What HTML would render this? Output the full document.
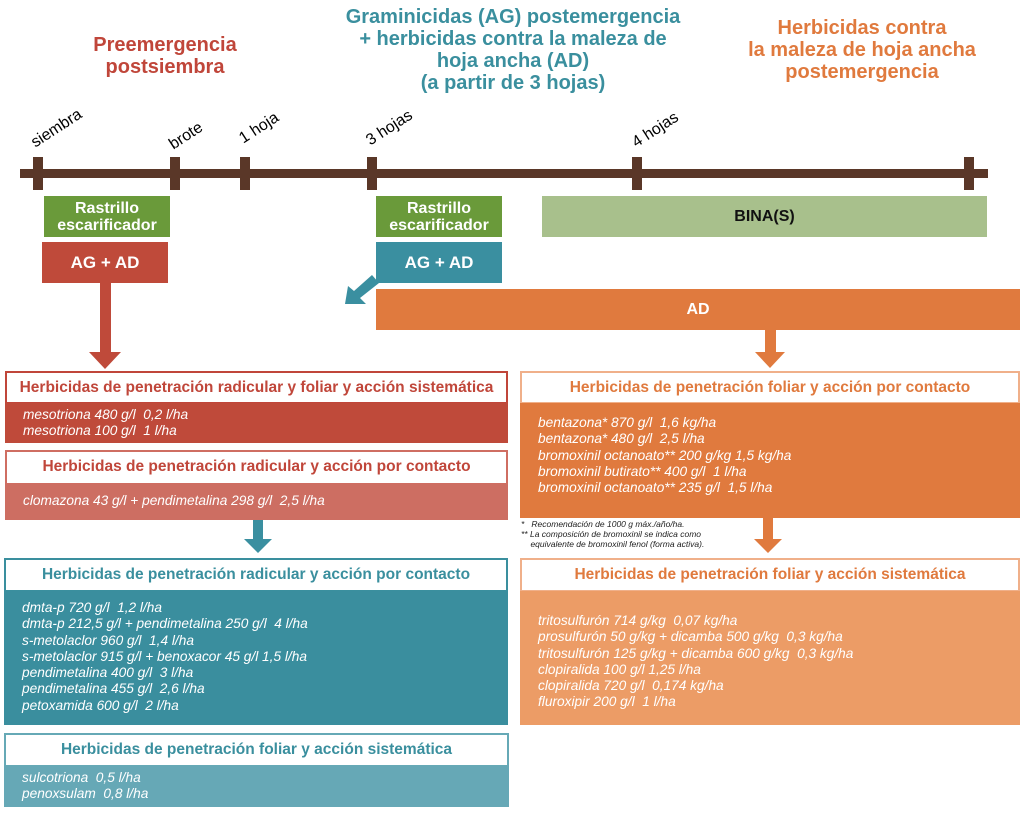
<!DOCTYPE html>
<html><head><meta charset="utf-8"><style>
body{margin:0;width:1024px;height:824px;position:relative;background:#fff;font-family:"Liberation Sans",sans-serif;overflow:hidden}
div{position:absolute;box-sizing:border-box}
.t{font-weight:bold;text-align:center;font-size:20px;line-height:22px}
.b{color:#fff;font-weight:bold;text-align:center;font-size:16px;display:flex;align-items:center;justify-content:center;line-height:17px}
.h{background:#fff;text-align:center;font-weight:bold;font-size:15.5px;line-height:30px;border:2px solid;white-space:nowrap}
.body{color:#fff;font-style:italic;font-size:13.7px;line-height:16.3px;padding-left:18px}
.tk{background:#5a3728;width:10px;height:33px;top:157px}
.lb{font-size:16px;transform:rotate(-33deg);transform-origin:left bottom;white-space:nowrap}
</style></head><body>
<div class="t" style="left:40px;top:34px;width:250px;color:#c0463a">Preemergencia<br>postsiembra</div>
<div class="t" style="left:290px;top:6px;width:446px;color:#3a8f9e">Graminicidas (AG) postemergencia<br>+ herbicidas contra la maleza de<br>hoja ancha (AD)<br>(a partir de 3 hojas)</div>
<div class="t" style="left:720px;top:17px;width:284px;color:#e07a3e">Herbicidas contra<br>la maleza de hoja ancha<br>postemergencia</div>

<div style="left:20px;top:169px;width:968px;height:9px;background:#5a3728"></div>
<div class="tk" style="left:33px"></div><div class="tk" style="left:170px"></div><div class="tk" style="left:240px"></div><div class="tk" style="left:367px"></div><div class="tk" style="left:632px"></div><div class="tk" style="left:964px"></div>
<div class="lb" style="left:38px;top:134px">siembra</div>
<div class="lb" style="left:176px;top:136px">brote</div>
<div class="lb" style="left:246px;top:130px">1 hoja</div>
<div class="lb" style="left:373px;top:132px">3 hojas</div>
<div class="lb" style="left:639px;top:134px">4 hojas</div>

<div class="b" style="left:44px;top:196px;width:126px;height:41px;background:#6a9a3a">Rastrillo<br>escarificador</div>
<div class="b" style="left:42px;top:242px;width:126px;height:41px;background:#bf4a3a;font-size:17px">AG + AD</div>
<div class="b" style="left:376px;top:196px;width:126px;height:41px;background:#6a9a3a">Rastrillo<br>escarificador</div>
<div class="b" style="left:376px;top:242px;width:126px;height:41px;background:#3a8fa0;font-size:17px">AG + AD</div>
<div class="b" style="left:376px;top:289px;width:644px;height:41px;background:#e07a3e">AD</div>
<div class="b" style="left:542px;top:196px;width:445px;height:41px;background:#a8c08c;color:#111;font-weight:bold">BINA(S)</div>

<svg style="position:absolute;left:0;top:0" width="1024" height="824">
<polygon points="100,283 111,283 111,352 121,352 105,369 89,352 100,352" fill="#bf4a3a"/>
<polygon points="372,275 379,283 360,298 366,304 345,304 348,286 354,291" fill="#3a8fa0"/>
<polygon points="765,329 776,329 776,352 785,352 770,368 755,352 765,352" fill="#e07a3e"/>
<polygon points="253,520 263,520 263,539 272,539 258,553 244,539 253,539" fill="#3a8fa0"/>
<polygon points="763,517 773,517 773,539 782,539 768,553 754,539 763,539" fill="#e07a3e"/>
</svg>

<div class="h" style="left:5px;top:371px;width:503px;height:33px;border-color:#c0463a;color:#c0463a">Herbicidas de penetración radicular y foliar y acción sistemática</div>
<div class="body" style="left:5px;top:403px;width:503px;height:40px;background:#bf4a3a;padding-top:4px">mesotriona 480 g/l&nbsp; 0,2 l/ha<br>mesotriona 100 g/l&nbsp; 1 l/ha</div>
<div class="h" style="left:5px;top:450px;width:503px;height:35px;border-color:#cf6e62;color:#c0463a">Herbicidas de penetración radicular y acción por contacto</div>
<div class="body" style="left:5px;top:484px;width:503px;height:36px;background:#cd6e62;padding-top:9px">clomazona 43 g/l + pendimetalina 298 g/l&nbsp; 2,5 l/ha</div>

<div class="h" style="left:4px;top:558px;width:504px;height:34px;border-color:#3a8f9e;color:#3a8f9e">Herbicidas de penetración radicular y acción por contacto</div>
<div class="body" style="left:4px;top:591px;width:504px;height:134px;background:#3a8e9e;padding-top:9px">dmta-p 720 g/l&nbsp; 1,2 l/ha<br>dmta-p 212,5 g/l + pendimetalina 250 g/l&nbsp; 4 l/ha<br>s-metolaclor 960 g/l&nbsp; 1,4 l/ha<br>s-metolaclor 915 g/l + benoxacor 45 g/l 1,5 l/ha<br>pendimetalina 400 g/l&nbsp; 3 l/ha<br>pendimetalina 455 g/l&nbsp; 2,6 l/ha<br>petoxamida 600 g/l&nbsp; 2 l/ha</div>
<div class="h" style="left:4px;top:733px;width:505px;height:34px;border-color:#66a9b6;color:#3a8f9e">Herbicidas de penetración foliar y acción sistemática</div>
<div class="body" style="left:4px;top:766px;width:505px;height:41px;background:#66a8b6;padding-top:4px">sulcotriona&nbsp; 0,5 l/ha<br>penoxsulam&nbsp; 0,8 l/ha</div>

<div class="h" style="left:520px;top:371px;width:500px;height:33px;border-color:#f0b08a;color:#e07a3e">Herbicidas de penetración foliar y acción por contacto</div>
<div class="body" style="left:520px;top:403px;width:500px;height:115px;background:#e07a3e;padding-top:12px">bentazona* 870 g/l&nbsp; 1,6 kg/ha<br>bentazona* 480 g/l&nbsp; 2,5 l/ha<br>bromoxinil octanoato** 200 g/kg 1,5 kg/ha<br>bromoxinil butirato** 400 g/l&nbsp; 1 l/ha<br>bromoxinil octanoato** 235 g/l&nbsp; 1,5 l/ha</div>
<div style="left:521px;top:519px;font-size:8.5px;line-height:10px;font-style:italic;color:#222">*&nbsp;&nbsp; Recomendación de 1000 g máx./año/ha.<br>** La composición de bromoxinil se indica como<br>&nbsp;&nbsp;&nbsp; equivalente de bromoxinil fenol (forma activa).</div>
<div class="h" style="left:520px;top:558px;width:500px;height:34px;border-color:#f0b08a;color:#e07a3e">Herbicidas de penetración foliar y acción sistemática</div>
<div class="body" style="left:520px;top:591px;width:500px;height:134px;background:#ec9c66;padding-top:22px">tritosulfurón 714 g/kg&nbsp; 0,07 kg/ha<br>prosulfurón 50 g/kg + dicamba 500 g/kg&nbsp; 0,3 kg/ha<br>tritosulfurón 125 g/kg + dicamba 600 g/kg&nbsp; 0,3 kg/ha<br>clopiralida 100 g/l 1,25 l/ha<br>clopiralida 720 g/l&nbsp; 0,174 kg/ha<br>fluroxipir 200 g/l&nbsp; 1 l/ha</div>
</body></html>
